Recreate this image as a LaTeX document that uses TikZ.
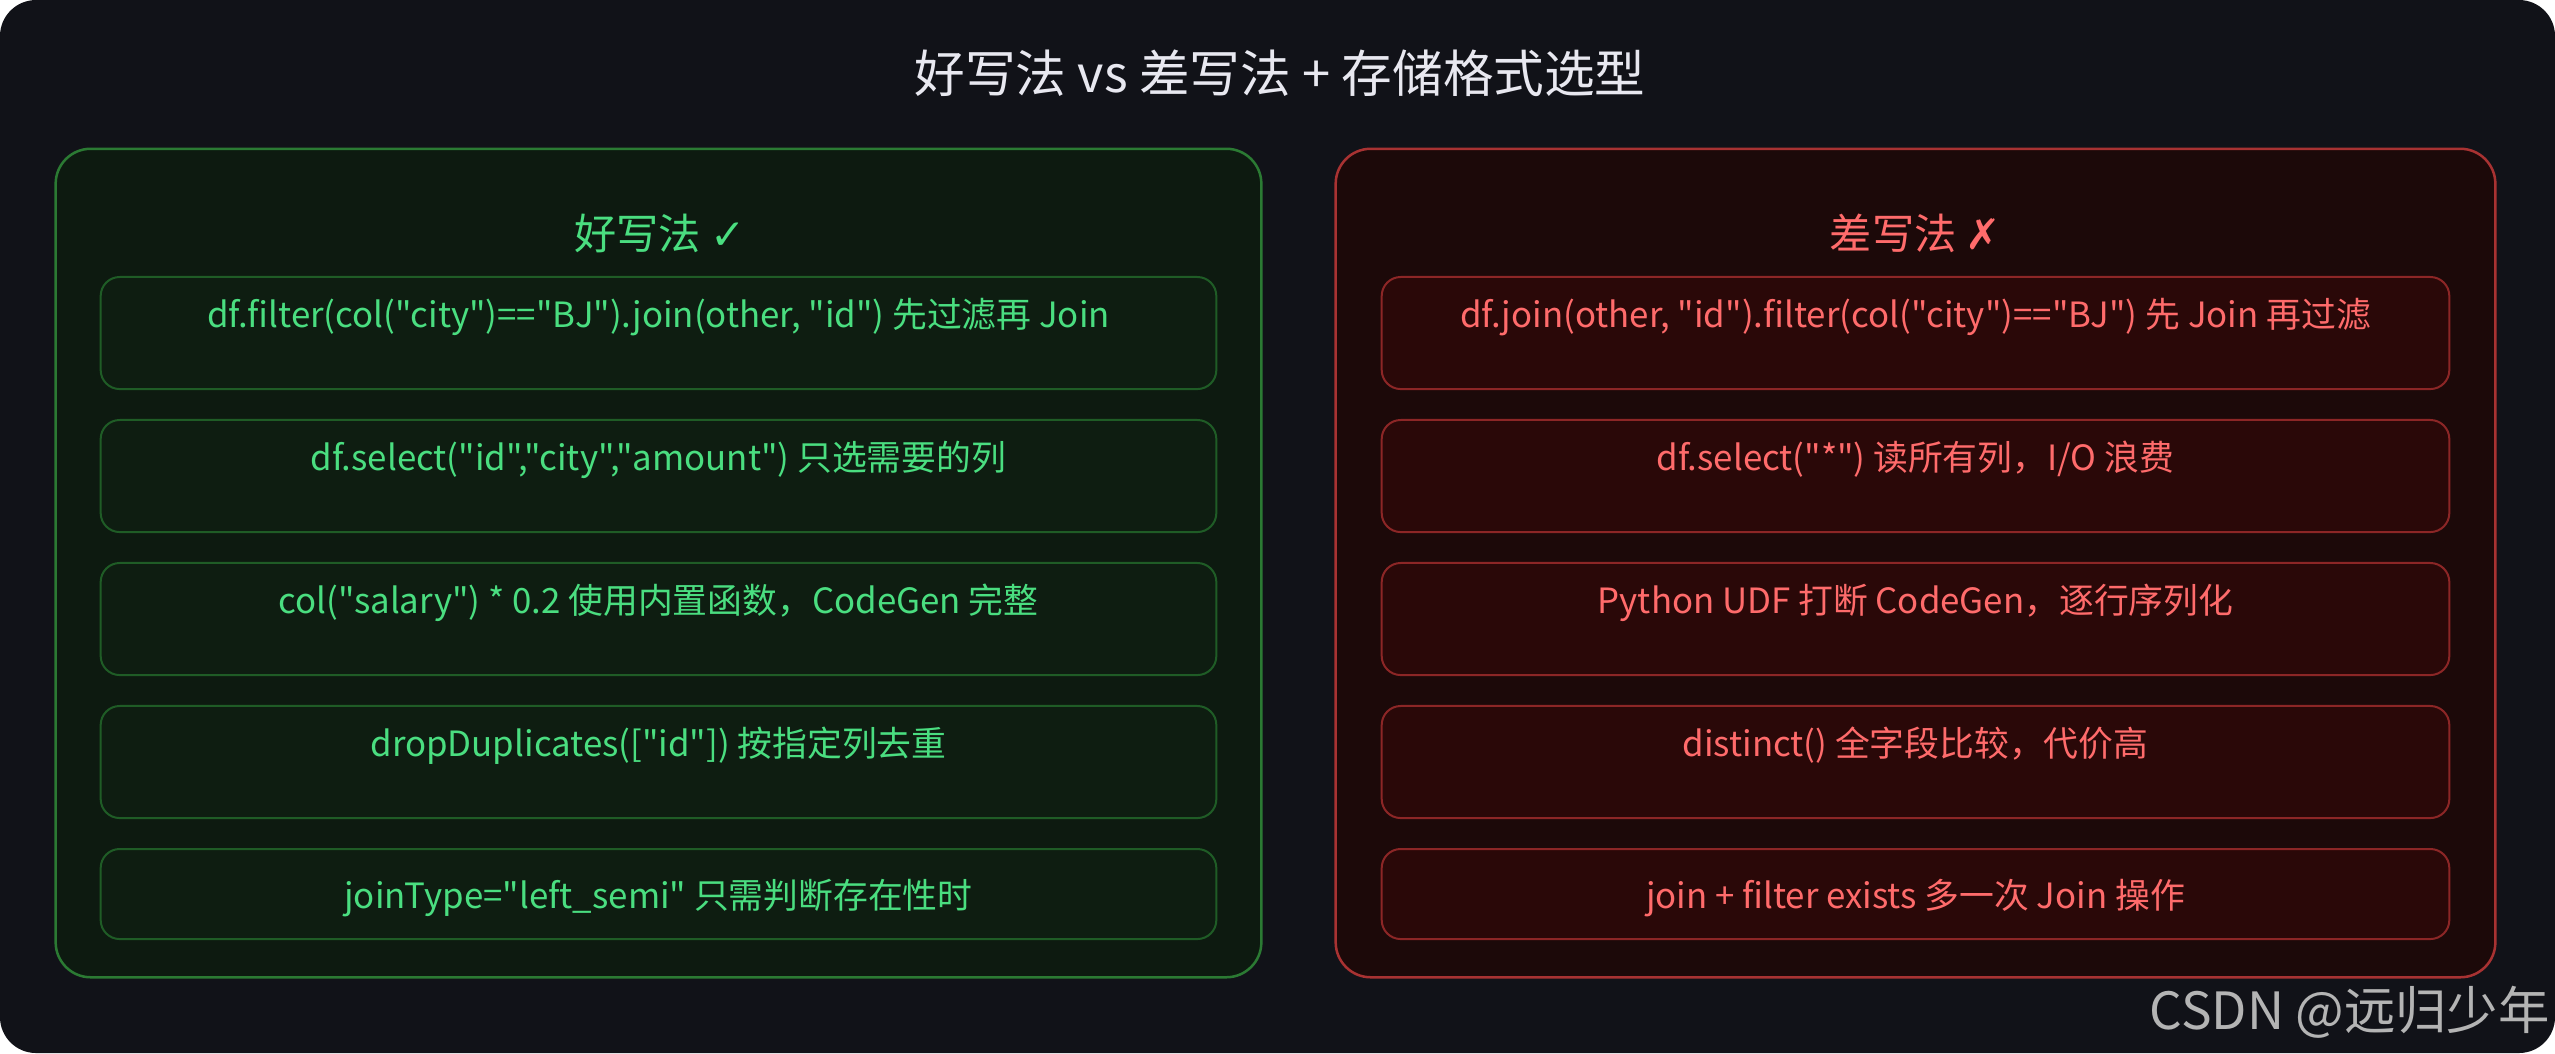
\documentclass[tikz,border=0pt]{standalone}
\usepackage{fontspec}
\setmainfont{Noto Sans CJK SC}[Ligatures=TeXOff]
\newfontfamily\markfont{DejaVu Sans}
\usepackage{xcolor}
\usepackage{tikz}
\definecolor{bgdark}{HTML}{111218}
\definecolor{titlecol}{HTML}{E8E8F0}
\definecolor{goodfill}{HTML}{0D1A10}
\definecolor{goodline}{HTML}{2B7A33}
\definecolor{gooditemfill}{HTML}{0E1D11}
\definecolor{gooditemline}{HTML}{1F5C26}
\definecolor{goodtext}{HTML}{4ADE80}
\definecolor{badfill}{HTML}{1C0909}
\definecolor{badline}{HTML}{A83232}
\definecolor{baditemfill}{HTML}{2A0808}
\definecolor{baditemline}{HTML}{8C2626}
\definecolor{badtext}{HTML}{FF6B6B}
\definecolor{wmgray}{HTML}{B4B4B4}
\tikzset{ box_panel/.style = {rectangle, rounded corners=3.5mm, line width=0.25mm, minimum height=82.8mm} }
\tikzset{ good_panel/.style = {box_panel, draw=goodline, fill=goodfill, minimum width=120.5mm} }
\tikzset{ bad_panel/.style = {box_panel, draw=badline, fill=badfill, minimum width=115.9mm} }
\tikzset{ list_item/.style = {rectangle, rounded corners=1.9mm, line width=0.2mm, inner sep=0pt,
    text height=5mm, text depth=6.2mm, font=\fontsize{9.9pt}{12pt}\selectfont} }
\tikzset{ last_item/.style = {text height=5.9mm, text depth=3.1mm} }
\tikzset{ good_item/.style = {list_item, draw=gooditemline, fill=gooditemfill, text=goodtext, minimum width=111.5mm} }
\tikzset{ bad_item/.style = {list_item, draw=baditemline, fill=baditemfill, text=badtext, minimum width=106.7mm} }
\tikzset{ panel_head/.style = {font=\fontsize{12pt}{14pt}\selectfont} }
\tikzset{ title_text/.style = {text=titlecol, font=\fontsize{14.4pt}{17pt}\selectfont} }

\begin{document}
\begin{tikzpicture}[x=0.01cm, y=-0.01cm]
        \useasboundingbox (0,0) rectangle (2555,1053);
        \fill[white] (0,0) rectangle (2555,1053);
        \fill[bgdark, rounded corners=3.6mm] (0,0) rectangle (2555,1053);
        % title
        \node [title_text] (T) at (1280, 73) {好写法 vs 差写法 + 存储格式选型};
        % panels
        \node [good_panel] (GP) at (658.5, 563) {};
        \node [bad_panel] (BP) at (1915.5, 563) {};
        \node [panel_head, text=goodtext] (GH) at (660, 233) {好写法 {\markfont ✓}};
        \node [panel_head, text=badtext] (BH) at (1915.5, 233) {差写法 {\markfont ✗}};
        % good side
        \node [good_item] (G1) at (658.5, 333) {df.filter(col("city")=="BJ").join(other, "id") 先过滤再 Join};
        \node [good_item] (G2) at (658.5, 476) {df.select("id","city","amount") 只选需要的列};
        \node [good_item] (G3) at (658.5, 619) {col("salary") * 0.2 使用内置函数，CodeGen 完整};
        \node [good_item] (G4) at (658.5, 762) {dropDuplicates(["id"]) 按指定列去重};
        \node [good_item, last_item] (G5) at (658.5, 894) {joinType="left\_semi" 只需判断存在性时};
        % bad side
        \node [bad_item] (B1) at (1915.5, 333) {df.join(other, "id").filter(col("city")=="BJ") 先 Join 再过滤};
        \node [bad_item] (B2) at (1915.5, 476) {df.select("*") 读所有列，I/O 浪费};
        \node [bad_item] (B3) at (1915.5, 619) {Python UDF 打断 CodeGen，逐行序列化};
        \node [bad_item] (B4) at (1915.5, 762) {distinct() 全字段比较，代价高};
        \node [bad_item, last_item] (B5) at (1915.5, 894) {join + filter exists 多一次 Join 操作};
        % watermark
        \node [anchor=base east, text=wmgray, font=\fontsize{14.6pt}{17pt}\selectfont] (W) at (2562, 1029) {CSDN @远归少年};
\end{tikzpicture}
\end{document}
